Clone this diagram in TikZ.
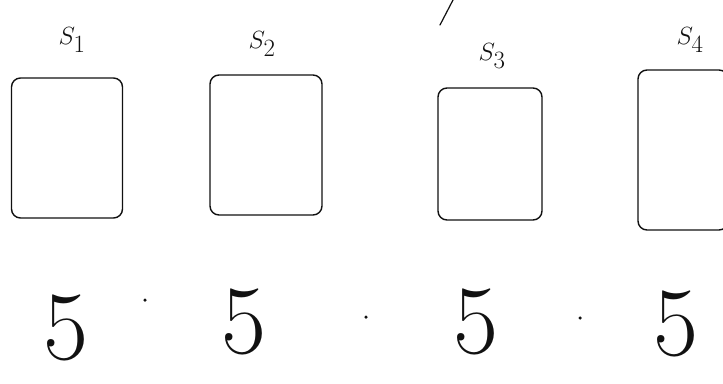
\documentclass[tikz,border=0pt]{standalone}
\usepackage{amsmath}
\usepackage{tikz}
\usetikzlibrary{positioning}
\definecolor{ink}{HTML}{111111}
\tikzset{
  % --- nodes
  slot/.style  = {draw=ink, line width=1.4pt, rounded corners=9pt, inner sep=0pt},
  lbl/.style   = {font=\fontsize{46}{46}\selectfont, text=ink, inner sep=0pt},
  digit/.style = {font=\fontsize{98}{98}\selectfont, text=ink, inner sep=0pt},
  dotsep/.style= {circle, fill=ink, inner sep=0pt, minimum size=3.5pt},
  stroke/.style= {draw=ink, line width=1.2pt, line cap=round},
}
\begin{document}
\begin{tikzpicture}[x=1pt,y=-1pt]
  \useasboundingbox (0,0) rectangle (723,383);
  % --- the four boxes
  \node[slot, minimum width=111pt, minimum height=140pt] (s1) at (67,148) {};
  \node[slot, minimum width=112pt, minimum height=140pt] (s2) at (266,145) {};
  \node[slot, minimum width=104pt, minimum height=132pt] (s3) at (490,154) {};
  \node[slot, minimum width=90pt,  minimum height=160pt] (s4) at (683,150) {};
  % --- labels above
  \node[lbl] (l1) at (72,40) {$S_1$};
  \node[lbl] (l2) at (262,44) {$S_2$};
  \node[lbl] (l3) at (492,56) {$S_3$};
  \node[lbl] (l4) at (690,40) {$S_4$};
  \coordinate (k1) at (440,25);
  \coordinate (k2) at (453,0);
  \draw[stroke] (k1) -- (k2);
  % --- product row
  \node[digit] (f1) at (66,328) {5};
  \node[digit] (f2) at (244,322) {5};
  \node[digit] (f3) at (476,322) {5};
  \node[digit] (f4) at (676,324) {5};
  \node[dotsep] (d1) at (145,300) {};
  \node[dotsep] (d2) at (366,317) {};
  \node[dotsep] (d3) at (580,318) {};
\end{tikzpicture}
\end{document}
